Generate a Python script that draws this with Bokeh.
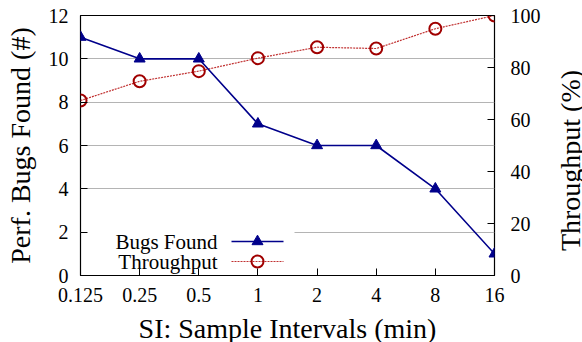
import math
from bokeh.plotting import figure
from bokeh.layouts import row
from bokeh.models import Range1d, LinearAxis, Label, BoxAnnotation, FixedTicker
from bokeh.core.properties import value
from bokeh.embed import file_html
from bokeh.resources import INLINE

# ---- data ----
si_labels = ["0.125", "0.25", "0.5", "1", "2", "4", "8", "16"]
bugs_found = [11, 10, 10, 7, 6, 6, 4, 1]
throughput = [67.3, 74.7, 78.6, 83.6, 87.8, 87.3, 94.9, 100]
left_ticks = [0, 2, 4, 6, 8, 10, 12]
right_ticks = [0, 20, 40, 60, 80, 100]
right_title = "Throughput (%)"

xs = list(range(len(si_labels)))

FONT = "Liberation Serif"
BLUE = "#00008b"
RED = "#a00000"
RED_LINE = "#c03030"

FW, FH = 414, 260
TOTAL_W, TOTAL_H = 582, 342
SIDE_W = 40
FRAME_L, FRAME_T = 80, 15

p = figure(frame_width=FW, frame_height=FH, output_backend="svg", toolbar_location=None,
           x_range=Range1d(0, len(si_labels) - 1), y_range=Range1d(0, 12),
           min_border_left=FRAME_L, min_border_right=TOTAL_W - SIDE_W - FRAME_L - FW,
           min_border_top=FRAME_T, min_border_bottom=TOTAL_H - FRAME_T - FH)
p.extra_y_ranges = {"tp": Range1d(0, 100)}
p.background_fill_color = "white"
p.border_fill_color = "white"
p.outline_line_color = "black"
p.outline_line_alpha = 1
p.outline_line_width = 1.2

# axes
xa = p.xaxis[0]
xa.ticker = FixedTicker(ticks=xs)
xa.major_label_overrides = {i: s for i, s in enumerate(si_labels)}
xa.axis_label = "SI: Sample Intervals (min)"

ya = p.yaxis[0]
ya.ticker = FixedTicker(ticks=left_ticks)
ya.axis_label = "Perf. Bugs Found (#)"

ra = LinearAxis(y_range_name="tp", ticker=FixedTicker(ticks=right_ticks))
p.add_layout(ra, "right")

for ax in (xa, ya, ra):
    ax.major_tick_in = 7
    ax.major_tick_out = 0
    ax.minor_tick_in = 0
    ax.minor_tick_out = 0
    ax.axis_line_color = None
    ax.major_tick_line_color = "black"
    ax.major_label_text_font = FONT
    ax.major_label_text_font_size = "20px"
    ax.major_label_text_color = "black"
    ax.axis_label_text_font = FONT
    ax.axis_label_text_font_size = "28px"
    ax.axis_label_text_font_style = "normal"
    ax.axis_label_text_color = "black"
xa.major_label_standoff = 12
xa.axis_label_standoff = 8
ya.major_label_standoff = 12
ya.axis_label_standoff = 10
ra.major_label_standoff = 16

p.xgrid.grid_line_color = None
p.ygrid.ticker = FixedTicker(ticks=left_ticks[1:-1])
p.ygrid.grid_line_color = "#b4b4b4"
p.ygrid.grid_line_width = 1

# geometry helpers (pixel offsets relative to the frame -> data units)
step = FW / (len(si_labels) - 1)
def dx(px):
    return px / step
def dy(py):
    return (FH - py) / FH * 12

# legend background that hides the grid
p.add_layout(BoxAnnotation(left=dx(2), right=dx(214), top=dy(212), bottom=dy(FH - 1),
                           fill_color="white", fill_alpha=1, line_color=None,
                           level="underlay"))

# data series
p.line(xs, throughput, y_range_name="tp", line_color=RED_LINE, line_width=1.2,
       line_dash="2 1")
p.scatter(xs, throughput, y_range_name="tp", marker="circle", size=12,
          fill_color=None, line_color=RED, line_width=2)
p.line(xs, bugs_found, line_color=BLUE, line_width=1.6)
p.scatter(xs, bugs_found, marker="triangle", size=11, fill_color=BLUE,
          line_color=BLUE)

# manual legend (label left, sample right)
leg_y1, leg_y2 = 226, 246
lx0, lx1 = 151, 203
p.line([dx(lx0), dx(lx1)], [dy(leg_y1)] * 2, line_color=BLUE, line_width=1.6)
p.scatter([dx((lx0 + lx1) / 2)], [dy(leg_y1)], marker="triangle", size=11,
          fill_color=BLUE, line_color=BLUE)
p.line([dx(lx0), dx(lx1)], [dy(leg_y2)] * 2, line_color=RED_LINE, line_width=1.2,
       line_dash="2 1")
p.scatter([dx((lx0 + lx1) / 2)], [dy(leg_y2)], marker="circle", size=12,
          fill_color=None, line_color=RED, line_width=2)

for txt, yy in (("Bugs Found", leg_y1), ("Throughput", leg_y2)):
    p.add_layout(Label(x=dx(137), y=dy(yy), text=txt, text_align="right",
                       text_baseline="middle", text_font=FONT,
                       text_font_size="21px", text_color="black"))

# side panel carrying the right axis title (reads bottom-to-top);
# its frame is pinned to exact pixels so data units equal pixels
side = figure(frame_width=SIDE_W, frame_height=TOTAL_H, output_backend="svg",
              toolbar_location=None,
              x_range=Range1d(0, SIDE_W), y_range=Range1d(0, TOTAL_H),
              x_axis_location=None, y_axis_location=None,
              min_border=0, min_border_left=0, min_border_right=0,
              min_border_top=0, min_border_bottom=0)
side.title.visible = False
side.outline_line_color = None
side.xgrid.visible = False
side.ygrid.visible = False
side.background_fill_color = "white"
side.border_fill_color = "white"
side.text(x=[SIDE_W - 13.5], y=[TOTAL_H - (FRAME_T + FH / 2)], text=[right_title],
          angle=math.pi / 2, text_align="center", text_baseline="alphabetic",
          text_font=value(FONT), text_font_size="28px", text_color="black")

open("out.html", "w").write(file_html(row(p, side), INLINE))
